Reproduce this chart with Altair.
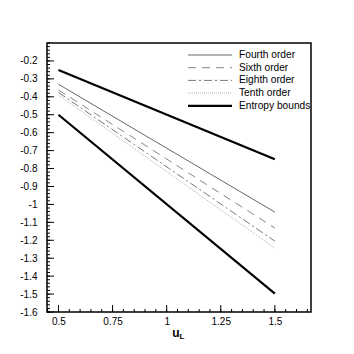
import altair as alt
import pandas as pd

x_vals = [0.5, 1.5]
fourth = [-0.33, -1.043]
sixth = [-0.362, -1.132]
eighth = [-0.376, -1.205]
tenth = [-0.39, -1.244]
upper = [-0.25, -0.748]
lower = [-0.5, -1.497]

series_names = ["Fourth order", "Sixth order", "Eighth order", "Tenth order", "Entropy bounds"]

x_major = [0.5, 0.75, 1.0, 1.25, 1.5]
x_minor = [0.5 + 0.05 * i for i in range(-1, 24)]
y_major = [round(-1.6 + 0.1 * i, 2) for i in range(15)]
y_minor = [round(-1.6 + 0.02 * i, 2) for i in range(76)]

XDOM = [0.447, 1.667]
YDOM = [-1.6, -0.1]
W, H = 264, 269
FONT = "Liberation Sans"

xs = alt.Scale(domain=XDOM, nice=False, zero=False)
ys = alt.Scale(domain=YDOM, nice=False, zero=False)

xax = alt.Axis(values=x_major, title=None, ticks=False, grid=False,
               domain=False, labelFont=FONT, labelFontSize=10, labelColor="black", labelPadding=4,
               labelExpr="toString(datum.value)")
yax = alt.Axis(values=y_major, title=None, ticks=False, grid=False,
               domain=False, labelFont=FONT, labelFontSize=10, labelColor="black", labelPadding=10,
               labelExpr="toString(datum.value)")

def X(f="x:Q"):
    return alt.X(f, scale=xs, axis=xax)

def Y(f="y:Q"):
    return alt.Y(f, scale=ys, axis=yax)

styles = [
    dict(color="#555555", strokeWidth=0.9),
    dict(color="#777777", strokeWidth=0.9, strokeDash=[8, 6]),
    dict(color="#666666", strokeWidth=0.9, strokeDash=[8, 3, 2, 3]),
    dict(color="#aaaaaa", strokeWidth=0.9, strokeDash=[1, 1]),
    dict(color="#000000", strokeWidth=2.2),
]

def line(vals, st, name):
    df = pd.DataFrame({"x": x_vals, "y": vals, "s": name})
    return alt.Chart(df).mark_line(**st).encode(x=X(), y=Y())

layers = []

# inward ticks
xmin_df = pd.DataFrame({"x": [v for v in x_minor if XDOM[0] <= v <= XDOM[1]]})
xmaj_df = pd.DataFrame({"x": x_major})
ymin_df = pd.DataFrame({"y": [v for v in y_minor if YDOM[0] <= v <= YDOM[1]]})
ymaj_df = pd.DataFrame({"y": y_major})
layers.append(alt.Chart(xmin_df).mark_rule(color="black", strokeWidth=1).encode(
    x=X(), y=alt.value(H), y2=alt.value(H - 3)))
layers.append(alt.Chart(xmaj_df).mark_rule(color="black", strokeWidth=1).encode(
    x=X(), y=alt.value(H), y2=alt.value(H - 7)))
layers.append(alt.Chart(ymin_df).mark_rule(color="black", strokeWidth=1).encode(
    y=Y(), x=alt.value(0), x2=alt.value(3)))
layers.append(alt.Chart(ymaj_df).mark_rule(color="black", strokeWidth=1).encode(
    y=Y(), x=alt.value(0), x2=alt.value(7)))

all_series = [fourth, sixth, eighth, tenth, upper]
for vals, st, name in zip(all_series, styles, series_names):
    layers.append(line(vals, st, name))
layers.append(line(lower, styles[4], series_names[4]))

# legend
for i, (name, st) in enumerate(zip(series_names, styles)):
    yy = 12 + i * 12.7
    d = pd.DataFrame({"t": [name]})
    layers.append(alt.Chart(d).mark_rule(**st).encode(
        x=alt.value(141), x2=alt.value(185), y=alt.value(yy)))
    layers.append(alt.Chart(d).mark_text(align="left", baseline="middle", font=FONT,
                                         fontSize=10.2, color="black").encode(
        x=alt.value(192), y=alt.value(yy), text="t:N"))

# x title
t1 = pd.DataFrame({"t": ["u"]})
t2 = pd.DataFrame({"t": ["L"]})
layers.append(alt.Chart(t1).mark_text(font=FONT, fontSize=12, fontWeight="bold", baseline="middle",
                                      color="black").encode(x=alt.value(129), y=alt.value(290), text="t:N"))
layers.append(alt.Chart(t2).mark_text(font=FONT, fontSize=8, fontWeight="bold", baseline="middle",
                                      color="black").encode(x=alt.value(135), y=alt.value(294), text="t:N"))

chart = alt.layer(*layers).properties(
    width=W, height=H,
    autosize=alt.AutoSizeParams(type="none"),
    padding={"left": 39, "top": 35, "right": 30, "bottom": 30},
).configure_view(stroke="black", strokeWidth=1.5)

chart.save("out.html", embed_options={"renderer": "svg", "actions": False})
